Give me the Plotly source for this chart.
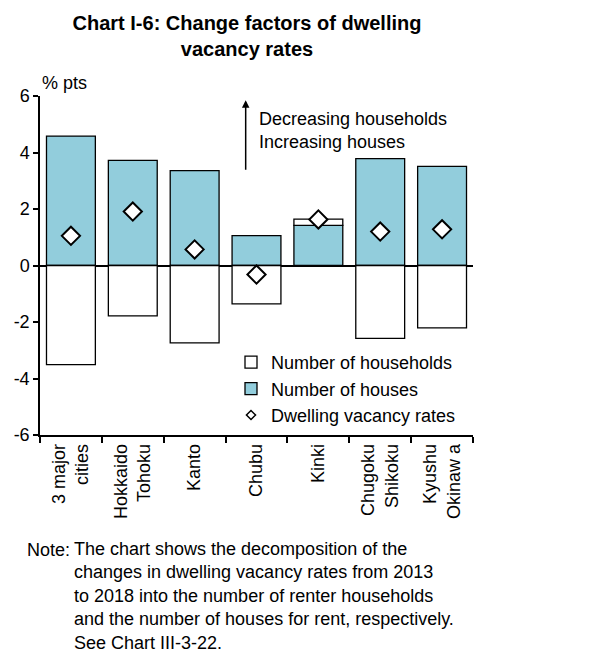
import plotly.graph_objects as go

categories = ["3 major<br>cities", "Hokkaido<br>Tohoku", "Kanto", "Chubu", "Kinki",
              "Chugoku<br>Shikoku", "Kyushu<br>Okinaw a"]
households = [-3.51, -1.78, -2.74, -1.36, 0.22, -2.58, -2.21]
houses = [4.58, 3.72, 3.36, 1.06, 1.42, 3.78, 3.51]
vacancy = [1.05, 1.91, 0.57, -0.32, 1.63, 1.20, 1.28]
y_tickvals = [-6, -4, -2, 0, 2, 4, 6]
y_ticktext = ["-6", "-4", "-2", "0", "2", "4", "6"]

FONT = "Liberation Sans, Arial, sans-serif"
BLUE = "#92CDDC"
OFF = 8  # page body margin of the html page

fig = go.Figure()
fig.add_trace(go.Bar(
    x=categories, y=houses, name="Number of houses",
    marker=dict(color=BLUE, line=dict(color="black", width=1.3)),
    legendrank=2,
))
fig.add_trace(go.Bar(
    x=categories, y=households, name="Number of households",
    marker=dict(color="white", line=dict(color="black", width=1.3)),
    legendrank=1,
))
fig.add_trace(go.Scatter(
    x=categories, y=vacancy, mode="markers", name="Dwelling vacancy rates",
    marker=dict(symbol="diamond", size=14, color="white",
                line=dict(color="black", width=2)),
    showlegend=False,
))
# legend entry with a smaller diamond, as in the reference
fig.add_trace(go.Scatter(
    x=[None], y=[None], mode="markers", name="Dwelling vacancy rates",
    marker=dict(symbol="diamond", size=7, color="white",
                line=dict(color="black", width=1.5)),
    legendrank=3,
))

W, H = 614 - OFF, 664 - OFF
fig.update_layout(
    width=W, height=H,
    margin=dict(l=40 - OFF, r=614 - 473, t=96 - OFF, b=664 - 435, autoexpand=False),
    paper_bgcolor="white", plot_bgcolor="white",
    font=dict(family=FONT, size=18, color="black"),
    barmode="relative", bargap=0.21,
    title=dict(text="<b>Chart I-6: Change factors of dwelling<br>vacancy rates</b>",
               x=(247 - OFF) / W, xanchor="center", y=1 - 22 / H, yanchor="top",
               font=dict(family=FONT, size=20, color="black")),
    showlegend=True,
    legend=dict(x=(231 - 40) / 433, xanchor="left", y=(435 - 344) / 339, yanchor="top",
                bgcolor="rgba(0,0,0,0)", font=dict(size=18),
                tracegroupgap=0, itemwidth=30),
    xaxis=dict(
        type="category", range=[-0.5, 6.5], automargin=False,
        showline=True, linecolor="black", linewidth=1.5,
        ticks="outside", tickson="boundaries", ticklen=6, tickwidth=1.5, tickcolor="black",
        tickangle=-90, showgrid=False, tickfont=dict(size=18),
    ),
    yaxis=dict(
        range=[-6, 6], tickmode="array", tickvals=y_tickvals, ticktext=y_ticktext,
        automargin=False,
        showline=True, linecolor="black", linewidth=1.5,
        ticks="outside", ticklen=5, tickwidth=1.5, tickcolor="black",
        showgrid=False, zeroline=True, zerolinecolor="black", zerolinewidth=2,
        tickfont=dict(size=18),
    ),
    annotations=[
        dict(text="% pts", xref="paper", yref="paper", x=0, y=(435 - 83) / 339,
             xanchor="left", yanchor="middle", showarrow=False, font=dict(size=18)),
        dict(x=2.825, y=5.85, ax=2.825, ay=3.34, xref="x", yref="y", axref="x", ayref="y",
             text="", showarrow=True, arrowhead=2, arrowsize=1, arrowwidth=1.5,
             arrowcolor="black"),
        dict(text="Decreasing households<br>Increasing houses", xref="x", yref="y",
             x=3.0, y=4.77, xanchor="left", yanchor="middle", align="left",
             showarrow=False, font=dict(size=18)),
        dict(text="Note:", xref="paper", yref="paper", x=(25 - 40) / 433,
             y=(435 - 550) / 339, xanchor="left", yanchor="middle", showarrow=False,
             font=dict(size=18)),
        dict(text="The chart shows the decomposition of the<br>"
                  "changes in dwelling vacancy rates from 2013<br>"
                  "to 2018 into the number of renter households<br>"
                  "and the number of houses for rent, respectively.<br>"
                  "See Chart III-3-22.",
             xref="paper", yref="paper", x=(72 - 40) / 433, y=(435 - 596) / 339,
             xanchor="left", yanchor="middle", align="left", showarrow=False,
             font=dict(size=18)),
    ],
)

fig.write_html("out.html")
